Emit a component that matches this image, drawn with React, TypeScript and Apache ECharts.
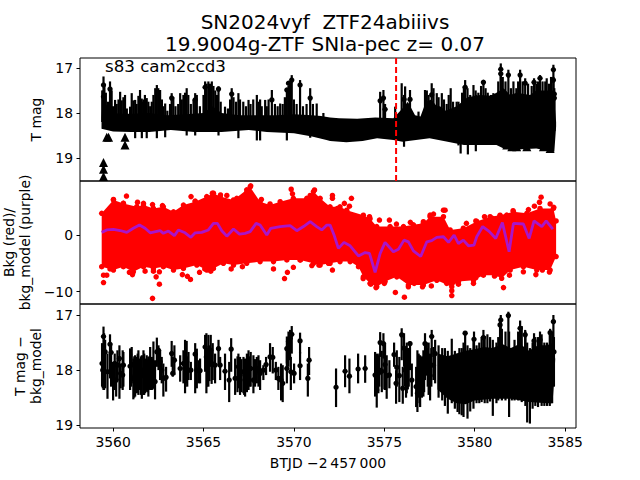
import React, { useEffect, useRef } from "react";
import * as echarts from "echarts";

const FONT = "DejaVu Sans";
const titleLines = ["SN2024vyf  ZTF24abiiivs", "19.9004g-ZTF SNIa-pec z= 0.07"];
const noteText = "s83 cam2ccd3";
const xTicks = [3560, 3565, 3570, 3575, 3580, 3585];
const magTicks = [17, 18, 19];
const bkgTicks = [-10, 0];
const peakTime = 3575.65;

// Panel 1: dense band of the T mag errorbars
const magBandTop = [[3559.36,18.1],[3559.45,17.6],[3559.6,17.8],[3559.9,18.0],[3560.5,18.02],[3561,18.02],[3562,18.0],[3563,18.05],[3564,18.03],[3565,18.0],[3565.5,17.85],[3566,18.0],[3567,18.05],[3568,18.05],[3569,18.05],[3570,18.03],[3571,18.05],[3571.5,18.07],[3572,18.1],[3572.5,18.12],[3573.5,18.13],[3574.5,18.1],[3575.5,18.12],[3576,17.9],[3576.3,17.75],[3576.7,18.05],[3577,18.08],[3577.3,17.75],[3577.6,17.7],[3577.9,17.85],[3578.08,17.85],[3578.4,17.95],[3579,17.85],[3579.3,17.75],[3579.6,17.65],[3580.3,17.6],[3580.9,17.62],[3581.2,17.55],[3581.6,17.45],[3581.96,17.6],[3582.32,17.55],[3583.06,17.6],[3583.4,17.5],[3583.8,17.5],[3584.35,17.5],[3584.5,18.2]];
const magBandBottom = [[3559.36,18.35],[3560,18.41],[3561,18.42],[3562,18.42],[3563.2,18.38],[3564.5,18.42],[3566,18.42],[3567.5,18.38],[3568.5,18.42],[3570,18.45],[3571,18.52],[3571.8,18.6],[3572,18.62],[3572.9,18.65],[3573.8,18.62],[3574.6,18.56],[3575.5,18.6],[3576,18.64],[3577.5,18.56],[3578.5,18.64],[3579.4,18.71],[3581.2,18.71],[3581.6,18.79],[3582.3,18.81],[3583.4,18.79],[3584.4,18.86],[3584.5,18.3]];
// t, bright end, faint end, dot
const magBars = [
[3559.47,17.19,18.2,17.38],[3559.47,17.5,18.3,17.64],[3559.83,17.3,18.1,17.47],[3560.11,17.71,18.2],[3560.39,17.53,18.2],[3560.66,17.6,18.2],[3560.94,17.86,18.2],[3561.03,17.56,18.2],[3561.22,17.71,18.56],[3561.49,17.49,18.2],[3561.59,17.75,18.56],[3561.68,17.7,18.2],[3561.86,17.67,18.56],[3562.14,17.75,18.2],[3562.42,17.38,18.56],[3562.6,17.49,18.2],[3562.88,17.79,18.54],[3563.24,17.56,18.2,17.67],[3563.71,17.56,18.2],[3563.89,17.6,18.2],[3564.07,17.45,18.5],[3564.54,17.56,18.5,17.71],[3565.09,17.3,18.2,17.43],[3565.27,17.3,18.2],[3565.46,17.3,18.2],[3565.83,17.41,18.5,17.47],[3566.19,17.86,18.2],[3566.56,17.45,18.2,17.58],[3566.93,17.56,18.56],[3567.49,17.71,18.2],[3567.95,17.6,18.61],[3568.13,17.7,18.61],[3568.41,17.71,18.2],[3568.78,17.49,18.2,17.71],[3569.24,17.79,18.2],[3569.61,17.45,18.61,17.49],[3569.7,17.4,18.2,17.34],[3569.88,17.16,18.2,17.27],[3570.34,17.27,18.2,17.38],[3570.9,17.45,18.55,17.67],[3571.26,17.79,18.3],[3571.63,18.0,18.3],
[3574.77,17.53,18.3,17.73],[3574.95,17.49,18.3,17.67],[3575.04,17.8,18.3,17.92],[3575.6,17.86,18.3],[3575.96,17.34,18.3],[3576.15,17.41,18.3],[3576.09,17.6,18.75,17.7],[3576.42,17.49,18.3,17.7],[3576.89,17.97,18.3],[3577.25,17.49,18.3],[3577.62,17.34,18.3,17.6],[3577.9,17.56,18.3],[3578.18,17.56,18.3],[3578.67,17.45,18.3],[3579.1,17.75,18.72],[3579.22,17.9,18.9],[3579.47,17.27,18.3,17.43],[3579.62,17.8,18.92],[3579.93,17.38,18.3],[3580.06,17.6,18.85],[3580.48,17.27,18.3,17.32],[3580.63,17.9,18.68],[3581.03,17.56,18.3],[3581.44,16.9,18.3,17.03],[3581.44,17.1,18.3,17.13],[3581.86,17.04,18.3,17.16],[3582.14,17.3,18.3],[3582.51,17.04,18.3,17.16],[3582.79,17.23,18.3,17.34],[3583.28,17.23,18.3,17.32],[3583.61,17.16,18.3,17.23],[3583.98,17.23,18.3],[3584.35,16.93,18.3,17.04],[3584.35,17.2,18.3,17.27],[3584.4,17.45,18.4,17.58],[3584.4,17.6,18.4,17.67],
];
// shorter bars that roughen the top of the band
const magFillBars = [
[3559.4,17.5,18.2],[3559.52,17.4,18.2],[3559.6,17.55,18.2],[3559.72,17.75,18.2],[3559.92,17.5,18.2],[3560.0,17.85,18.2],[3560.2,17.8,18.2],[3560.3,17.7,18.2],[3560.48,17.72,18.2],[3560.57,17.65,18.2],[3560.76,17.9,18.2],[3561.12,17.72,18.2],[3561.3,17.8,18.2],[3561.4,17.62,18.2],[3561.58,17.68,18.2],[3561.76,17.6,18.2],[3561.95,17.75,18.2],[3562.05,17.85,18.2],[3562.23,17.6,18.2],[3562.33,17.45,18.2],[3562.5,17.45,18.2],[3562.7,17.7,18.2],[3562.78,17.85,18.2],[3563.0,17.95,18.2],[3563.15,17.8,18.2],[3563.33,17.65,18.2],[3563.45,17.85,18.2],[3563.6,17.8,18.2],[3563.8,17.7,18.2],[3563.98,17.55,18.2],[3564.16,17.6,18.2],[3564.3,17.8,18.2],[3564.45,17.7,18.2],[3564.63,17.6,18.2],[3564.8,17.85,18.2],[3565.0,17.6,18.2],[3565.17,17.35,18.2],[3565.36,17.35,18.2],[3565.55,17.4,18.2],[3565.65,17.5,18.2],[3565.74,17.6,18.2],[3565.95,17.75,18.2],[3566.35,17.9,18.2],[3566.47,17.7,18.2],[3566.66,17.65,18.2],[3566.8,17.75,18.2],[3567.02,17.7,18.2],[3567.2,17.75,18.2],[3567.35,17.85,18.2],[3567.6,17.8,18.2],[3567.75,17.7,18.2],[3568.04,17.75,18.2],[3568.22,17.85,18.2],[3568.5,17.85,18.2],[3568.6,17.7,18.2],[3568.95,17.8,18.2],[3569.1,17.85,18.2],[3569.38,17.8,18.2],[3569.5,17.65,18.2],[3569.79,17.35,18.2],[3570.0,17.7,18.2],[3570.15,17.8,18.2],[3570.5,17.85,18.2],[3570.7,17.8,18.2],[3571.05,17.8,18.2],
[3577.35,17.5,18.2],[3577.45,17.6,18.2],[3577.72,17.45,18.2],[3578.0,17.65,18.2],[3578.3,17.7,18.2],[3578.45,17.8,18.2],[3578.56,17.6,18.2],[3578.8,17.75,18.2],[3579.0,17.75,18.2],[3579.3,17.55,18.2],[3579.4,17.4,18.2],[3579.6,17.45,18.2],[3579.75,17.6,18.2],[3580.05,17.5,18.2],[3580.2,17.55,18.2],[3580.35,17.4,18.2],[3580.6,17.45,18.2],[3580.72,17.55,18.2],[3580.9,17.6,18.2],[3581.15,17.6,18.2],[3581.3,17.3,18.2],[3581.55,17.2,18.2],[3581.7,17.3,18.2],[3582.0,17.45,18.2],[3582.3,17.45,18.2],[3582.4,17.3,18.2],[3582.65,17.3,18.2],[3582.95,17.35,18.2],[3583.15,17.4,18.2],[3583.4,17.35,18.2],[3583.5,17.3,18.2],[3583.75,17.3,18.2],[3583.9,17.3,18.2],[3584.1,17.35,18.2],[3584.22,17.2,18.2],
];
const magLimits = [[3559.47,19.1],[3559.47,19.25],[3559.47,19.41],[3559.65,18.54],[3559.75,18.54],[3560.66,18.54],[3560.66,18.71],[3581.77,18.71],[3582.05,18.75],[3582.32,18.75],[3582.88,18.75],[3583.8,18.75],[3584.17,18.79]];

// Panel 2: background envelope, outlying points, model line
const bkgTop = [[3559.37,3.84],[3560.02,6.2],[3560.57,5.6],[3561.31,5.02],[3561.68,5.3],[3562.23,4.7],[3562.78,5.0],[3563.34,4.1],[3563.89,5.3],[3564.54,5.9],[3565.18,6.8],[3565.55,7.4],[3565.92,6.8],[3566.66,6.2],[3567.39,8.0],[3567.58,8.5],[3568.13,5.9],[3568.68,5.3],[3569.24,5.9],[3569.97,6.5],[3570.71,6.5],[3571.08,7.7],[3571.45,6.5],[3572,5.0],[3572.55,5.0],[3572.92,4.4],[3573.84,3.5],[3574.21,2.9],[3574.58,1.5],[3575.32,1.5],[3576.06,1.5],[3576.61,1.8],[3577.16,2.1],[3577.53,3.25],[3578.27,3.25],[3578.64,0.9],[3579.37,1.2],[3580.11,2.4],[3580.85,3.25],[3581.4,3.5],[3582.14,4.1],[3582.88,3.84],[3583.61,4.7],[3584.35,4.7],[3584.5,2.5]];
const bkgBottom = [[3559.37,-5.6],[3560.02,-6.2],[3560.57,-5.6],[3561.12,-6.5],[3561.68,-5.6],[3562.23,-5.9],[3562.78,-5.6],[3563.34,-6.2],[3563.89,-5.9],[3564.63,-5.3],[3565.18,-6.2],[3565.55,-5.9],[3566.1,-5.0],[3566.66,-5.3],[3567.39,-5.0],[3568.13,-4.7],[3568.87,-4.7],[3569.61,-4.4],[3570.34,-4.4],[3571.08,-5.0],[3571.45,-5.3],[3572,-5.0],[3572.55,-4.7],[3573.11,-4.7],[3573.57,-5.6],[3573.84,-7.4],[3574.21,-8.55],[3574.58,-9.14],[3575.04,-8.2],[3575.69,-7.4],[3576.33,-8.85],[3577.16,-8.85],[3577.9,-8.0],[3578.73,-9.14],[3579.1,-8.2],[3579.93,-8.0],[3580.48,-7.1],[3581.13,-7.1],[3581.49,-7.65],[3581.96,-6.2],[3582.69,-5.6],[3583.43,-6.2],[3584.17,-6.2],[3584.5,-3.8]];
const bkgOutliers = [
[3560.02,6.3],[3560.57,5.6],[3560.74,6.9],[3561.35,5.8],[3561.68,5.6],[3562.18,5.4],[3562.73,5.2],[3564.31,6.8],[3564.54,6],[3565.49,7.4],[3565.94,7.1],[3566.29,7],[3566.84,6.5],[3567.61,8.7],[3567.39,7.5],[3568.2,6.3],[3568.68,5.5],[3569.85,8.1],[3569.92,7.3],[3571.14,7.97],[3570.9,7],[3572.13,6.5],
[3559.47,-8.4],[3559.47,-7.1],[3559.65,-7.1],[3559.83,-6],[3560.9,-6.6],[3561.07,-7],[3561.77,-6.4],[3562.18,-11.2],[3562.56,-8.7],[3562.56,-6.5],[3562.38,-7.4],[3562.23,-6.4],[3563.83,-7],[3564.11,-7.3],[3564.28,-7.85],[3564.78,-6.6],[3565.07,-6],[3565.4,-6.4],[3566.53,-6],[3567.15,-5.6],[3568.87,-6],[3569.48,-7.7],[3569.64,-6.6],[3569.97,-5.7],[3570.36,-4.4],[3570.99,-5.4],[3571.38,-5.3],[3571.91,-5],
[3572.13,7],[3572.79,5.6],[3573.07,5.1],[3573.18,6.5],[3572.41,4.7],[3574.18,3.25],[3574.73,2.65],[3575.28,2.65],[3575.67,1.95],[3576.44,2.25],[3577.16,2.36],[3577.53,3.54],[3577.72,3.7],[3578.27,4.4],[3578.36,4.4],[3577.66,2.65],[3579.54,2.07],[3580.06,2.5],[3580.54,3.25],[3580.98,2.95],[3581.4,3.4],[3581.77,3.54],[3582.12,4.3],[3582.97,4.5],[3583.3,5.1],[3583.58,5.8],[3583.67,6.7],[3584.17,5.5],[3584.37,4.9],
[3572.13,-6.2],[3573.83,-7.7],[3574.25,-8.7],[3574.54,-9.3],[3575,-8.55],[3575.61,-10.15],[3576.11,-11],[3576.33,-9.15],[3576.65,-8.55],[3577.11,-9.15],[3577.6,-9],[3578.03,-7.7],[3578.45,-8.55],[3578.73,-9.85],[3578.73,-10.7],[3579.1,-8.7],[3579.93,-8.55],[3580.06,-7.55],[3581.09,-7.25],[3581.59,-9.3],[3581.92,-7.1],[3582.69,-6.5],[3583.38,-7],[3583.74,-6.2],[3584.13,-6.55],
];
const bkgModel = [[3559.37,0.47],[3559.65,0.9],[3560.02,1.0],[3560.39,0.8],[3560.76,0.47],[3561.12,1.2],[3561.46,1.77],[3561.77,1.2],[3562.05,0.4],[3562.6,0.77],[3562.78,0.3],[3563.06,0.7],[3563.39,-0.1],[3563.61,0.9],[3563.98,0.4],[3564.3,-0.4],[3564.54,0.4],[3564.9,0.47],[3565.27,0.9],[3565.55,2.07],[3565.77,2.07],[3566.01,0.77],[3566.29,-0.2],[3566.66,1.06],[3566.99,0.17],[3567.3,0.3],[3567.58,0.6],[3567.91,2.07],[3568.13,1.77],[3568.5,0],[3568.72,1.2],[3569.24,1.5],[3569.79,1.65],[3570.16,0.77],[3570.53,1.5],[3570.9,2.36],[3571.26,1.5],[3571.54,0.9],[3571.82,1.77],[3572,1.77],[3572.22,0],[3572.46,-2.36],[3572.77,-1.3],[3573.11,-1.9],[3573.57,-3.7],[3573.94,-3.1],[3574.18,-3.24],[3574.49,-6.6],[3574.77,-3.24],[3575.04,-1.3],[3575.5,-2.95],[3575.78,-2.5],[3576.09,-0.9],[3576.33,-1.2],[3576.61,-2.8],[3577.01,-3.8],[3577.35,-1.2],[3577.62,-1],[3577.9,-0.4],[3578.27,-0.3],[3578.55,-1.3],[3578.86,0],[3579.1,-1.5],[3579.37,-0.9],[3579.65,-1.9],[3579.96,-1.77],[3580.11,-0.3],[3580.44,1.5],[3580.81,0.6],[3581.16,-0.6],[3581.53,2.2],[3581.9,-2.95],[3582.14,2.07],[3582.69,1.95],[3583.01,-0.6],[3583.28,2.5],[3583.71,1.5],[3583.95,2.5],[3584.32,1.06]];

// Panel 3: t, bright end, faint end, dot
const diffBars = [
[3559.47,17.21,18.36,17.39],[3559.5,17.33,18.36,17.67],[3559.39,17.51,18.3,17.88],[3559.43,17.64,18.33,18.0],[3559.56,17.45,18.33,17.67],[3559.69,17.7,18.52,18.03],[3559.83,17.35,18.15,17.53],[3559.89,17.51,18.3,17.68],[3560,17.85,18.55,18.18],[3560.09,17.7,18.36,17.88],[3560.17,17.88,18.48,18.18],[3560.24,17.64,18.18,17.91],[3560.35,17.55,18.52,17.79],[3560.42,17.88,18.33,18.06],[3560.53,17.64,18.36,18.09],[3560.57,17.67,18.3,17.91],
[3560.94,17.605,18.36,17.93],[3561.03,17.58,18.24,17.9],[3561.12,17.79,18.53,18.15],[3561.22,17.73,18.48,18.1],[3561.31,17.76,18.42,18.03],[3561.4,17.64,18.45,18.05],[3561.49,17.79,18.36,18.06],[3561.59,17.73,18.52,18.1],[3561.68,17.64,18.45,18.0],[3561.77,17.79,18.42,18.1],[3561.86,17.73,18.39,18.09],[3561.95,17.76,18.48,18.1],[3562.05,17.58,18.36,17.88],[3562.14,17.76,18.36,18.09],[3562.23,17.48,18.33,18.0],[3562.32,17.82,18.53,18.21],[3562.42,17.41,17.94,17.67],[3562.51,17.55,18.0,17.64],[3562.6,17.64,18.18,17.85],[3562.69,17.76,18.24,18.0],[3562.78,17.88,18.48,18.15],[3562.93,17.94,18.39,18.13],
[3563.24,17.47,17.94,17.7],[3563.3,17.76,18.12,18.06],[3563.39,17.55,18.09,17.82],[3563.71,17.73,18.21,17.97],[3563.89,17.64,18.24,17.88],[3563.98,17.45,18.42,17.97],[3564.07,17.47,18.24,17.85],[3564.17,17.67,18.18,18.0],[3564.3,17.85,18.18,18.0],[3564.54,17.51,18.42,17.71],[3564.63,17.61,18.33,18.0],[3564.72,17.82,18.24,18.01],[3564.81,17.79,18.24,18.01],
[3565.09,17.36,18.03,17.58],[3565.16,17.33,18.42,17.76],[3565.27,17.36,18.3,17.71],[3565.4,17.36,17.94,17.64],[3565.51,17.51,18.18,17.89],[3565.64,17.7,18.24,17.91],[3565.83,17.45,17.91,17.61],[3565.92,17.76,18.18,17.91],[3566.19,17.7,18.36,18.02],[3566.42,17.85,18.58,18.18],[3566.53,17.42,18.03,17.62],[3566.75,17.79,18.45,18.15],[3566.93,17.7,18.33,17.94],[3567.02,17.76,18.45,18.09],[3567.21,17.76,18.42,18.03],[3567.3,17.79,18.48,18.18],[3567.49,17.64,18.36,18.0],[3567.61,17.67,18.3,17.97],[3567.76,17.73,18.42,18.18],[3567.95,17.76,18.24,17.97],[3568.04,17.73,18.3,18.0],[3568.13,17.82,18.36,18.06],[3568.31,17.91,18.18,18.0],[3568.46,17.76,18.09,17.9],[3568.68,17.51,18.03,17.76],[3568.83,17.58,18.06,17.77],[3569,17.85,18.18,18.0],[3569.14,17.94,18.36,18.15],[3569.29,17.88,18.55,18.18],[3569.38,17.91,18.58,18.24],[3569.61,17.39,17.88,17.61],[3569.7,17.3,17.94,17.48],[3569.79,17.27,17.82,17.42],[3569.88,17.2,17.7,17.35],[3569.61,17.64,18.24,17.97],[3569.83,17.76,18.36,18.03],[3570.01,17.88,18.24,18.06],[3570.34,17.32,17.7,17.47],[3570.34,17.67,18.18,17.92],[3570.77,17.88,18.48,18.15],[3570.84,17.58,18.09,17.82],
[3572.33,17.97,18.67,18.31],[3572.83,17.73,18.31,18.02],[3573.07,17.79,18.42,18.11],[3573.55,17.7,18.24,17.98],[3573.94,17.73,18.23,17.97],
[3574.49,17.67,18.48,18.09],[3574.58,18.0,18.68,18.36],[3574.67,17.73,18.42,18.06],[3574.77,17.31,17.76,17.5],[3574.95,17.33,17.79,17.52],[3575.04,17.51,18.36,17.9],[3575.13,17.73,18.52,18.1],[3575.28,17.82,18.33,18.09],[3574.72,17.7,18.3,18.0],[3574.86,17.65,18.4,18.02],[3574.6,17.7,18.35,18.0],
[3575.54,17.5,17.94,17.72],[3575.65,18.0,18.61,18.24],[3575.69,17.64,18.3,17.95],[3575.83,17.76,18.58,18.1],[3575.96,17.24,17.82,17.36],[3576.09,17.33,17.94,17.6],[3576.02,17.94,18.61,18.33],[3576.24,17.5,18.42,17.9],[3576.42,17.48,18.0,17.52],[3576.3,17.6,18.35,17.9],[3576.15,17.6,18.3,18.0],[3576.52,17.88,18.48,18.18],[3576.76,17.94,18.67,18.3],[3576.83,17.64,18.76,18.42],[3576.98,17.73,18.67,18.2],[3576.9,17.7,18.5,18.1],[3577.16,17.64,18.48,18.06],[3577.25,17.33,18.18,17.52],[3577.35,17.5,18.1,17.8],[3577.53,17.7,18.55,18.1],[3577.62,17.27,17.76,17.39],[3577.72,17.58,18.18,17.91],[3577.81,17.45,18.24,17.7],[3577.45,17.5,18.45,18.0],
[3579.47,17.33,18.0,17.33],[3579.96,17.3,18.0,17.44],[3580.48,17.27,18.0,17.41],[3581.4,17.1,18.0,17.18],[3581.44,17.0,18.0,17.09],[3581.86,16.94,18.0,17.01],[3582.51,17.1,18.0,17.24],[3582.79,17.27,18.0,17.36],[3583.28,17.33,18.0,17.47],[3583.61,17.3,18.0,17.45],[3584.17,17.25,18.0,17.32],[3584.35,17.0,18.0,17.12],[3584.38,17.4,18.3,17.67],
];
const diffFillBars = [
[3578.0,17.55,18.5],[3578.2,17.6,18.55],[3578.35,17.6,18.65],[3578.51,17.65,18.79],[3578.73,17.43,18.6],[3578.9,17.65,18.7],[3579.05,17.7,18.76],[3579.15,17.6,18.8],[3579.28,17.6,18.82],[3579.38,17.5,18.85],[3579.6,17.55,18.88],[3579.75,17.6,18.75],[3579.93,17.45,18.7],[3580.1,17.55,18.6],[3580.25,17.5,18.6],[3580.38,17.4,18.58],[3580.55,17.38,18.6],[3580.7,17.35,18.6],[3580.85,17.4,18.57],[3581.0,17.45,18.83],[3581.2,17.5,18.6],[3581.3,17.4,18.55],[3581.5,17.25,18.55],[3581.7,17.3,18.55],[3581.9,17.3,18.85],[3582.05,17.65,18.55],[3582.2,17.45,18.55],[3582.4,17.3,18.55],[3582.6,17.2,18.58],[3582.8,17.3,18.65],[3582.9,17.5,18.95],[3583.05,17.6,18.97],[3583.2,17.5,18.7],[3583.35,17.4,18.65],[3583.5,17.4,18.67],[3583.7,17.35,18.65],[3583.85,17.5,18.65],[3584.0,17.5,18.65],[3584.15,17.35,18.65],[3584.28,17.3,18.6],
[3561.0,17.7,18.3],[3561.17,17.75,18.5],[3561.36,17.7,18.4],[3561.54,17.75,18.45],[3561.72,17.7,18.45],[3561.9,17.8,18.4],[3562.0,17.75,18.35],[3562.19,17.8,18.35],[3564.0,17.7,18.3],[3564.1,17.75,18.3],[3565.2,17.6,18.3],[3565.33,17.55,18.2],[3565.45,17.6,18.25],[3566.88,17.75,18.4],[3567.1,17.8,18.4],[3567.25,17.8,18.45],[3567.4,17.7,18.4],[3567.55,17.75,18.3],[3567.85,17.8,18.3],
[3575.0,17.7,18.35],[3576.2,17.7,18.5],[3576.35,17.6,18.3],[3576.95,17.85,18.6],[3577.08,17.75,18.5],[3577.2,17.7,18.4],[3577.4,17.6,18.3],[3577.6,17.6,18.3],
];
const diffBandTop = [[3577.94,17.7],[3578.5,17.75],[3579,17.7],[3579.5,17.65],[3580,17.62],[3580.5,17.58],[3581,17.6],[3581.5,17.52],[3582,17.6],[3582.5,17.52],[3583,17.65],[3583.5,17.55],[3584,17.55],[3584.35,17.5],[3584.45,17.8]];
const diffBandBottom = [[3577.94,18.35],[3578.5,18.52],[3579,18.6],[3579.5,18.62],[3580,18.55],[3581,18.52],[3582,18.52],[3583,18.58],[3584,18.6],[3584.3,18.6],[3584.4,18.15]];

const errorSeries = (rows: number[][], axis: number) => ({
  type: "custom",
  xAxisIndex: axis,
  yAxisIndex: axis,
  data: rows.map((r) => r.slice(0, 3)),
  z: 4,
  renderItem: (params: any, api: any) => {
    const row = rows[params.dataIndex];
    const a = api.coord([row[0], row[1]]);
    const b = api.coord([row[0], row[2]]);
    const children: any[] = [
      { type: "line", shape: { x1: a[0], y1: a[1], x2: b[0], y2: b[1] }, style: { stroke: "#000", lineWidth: 2.2 } },
    ];
    if (row.length > 3) {
      const c = api.coord([row[0], row[3]]);
      children.push({ type: "circle", shape: { cx: c[0], cy: c[1], r: 2.7 }, style: { fill: "#000" } });
    }
    return { type: "group", children };
  },
});

const bandSeries = (top: number[][], bottom: number[][], axis: number, color: string, z: number) => ({
  type: "custom",
  xAxisIndex: axis,
  yAxisIndex: axis,
  data: [top[0]],
  z,
  renderItem: (_p: any, api: any) => {
    const pts = [...top, ...[...bottom].reverse()].map((p) => api.coord(p));
    return { type: "polygon", shape: { points: pts }, style: { fill: color } };
  },
});

const scatter = (data: number[][], axis: number, color: string, size: number, z: number, symbol = "circle") => ({
  type: "scatter",
  xAxisIndex: axis,
  yAxisIndex: axis,
  data,
  symbol,
  symbolSize: size,
  itemStyle: { color, opacity: 1 },
  z,
  silent: true,
});

const textStyle = { color: "#000", fontFamily: FONT, fontSize: 13.9 };

const xAxis = (gridIndex: number, showTicks: boolean) => ({
  type: "value",
  gridIndex,
  min: 3558.17,
  max: 3585.6,
  name: showTicks ? "BTJD \u22122\u2009457\u2009000" : undefined,
  nameLocation: "middle",
  nameGap: 28,
  nameTextStyle: textStyle,
  splitLine: { show: false },
  axisLine: { show: false },
  axisTick: { show: showTicks, customValues: xTicks, length: 3.5, lineStyle: { color: "#000" } },
  axisLabel: { show: showTicks, customValues: xTicks, margin: 7, ...textStyle, formatter: (v: number) => String(v) },
});

const yAxis = (gridIndex: number, min: number, max: number, inverse: boolean, ticks: number[], name: string, nameGap: number) => ({
  type: "value",
  gridIndex,
  min,
  max,
  inverse,
  name,
  nameLocation: "middle",
  nameGap,
  nameRotate: 90,
  nameTextStyle: { ...textStyle, lineHeight: 16 },
  splitLine: { show: false },
  axisLine: { show: false },
  axisTick: { show: true, customValues: ticks, length: 3.5, lineStyle: { color: "#000" } },
  axisLabel: {
    show: true,
    customValues: ticks,
    margin: 7,
    ...textStyle,
    formatter: (v: number) => String(v).replace("-", "\u2212"),
  },
});

const gridBase = { left: 80, width: 496, outerBoundsMode: "none", show: true, backgroundColor: "transparent", borderColor: "#000", borderWidth: 1 };

export default function App() {
  const ref = useRef<HTMLDivElement>(null);
  useEffect(() => {
    const chart = echarts.init(ref.current!, undefined, { renderer: "svg" });
    chart.setOption({
      animation: false,
      backgroundColor: "#fff",
      title: [
        { text: titleLines[0], left: 320, top: 7, textAlign: "center", textStyle: { ...textStyle, fontSize: 20, fontWeight: "normal" } },
        { text: titleLines[1], left: 320, top: 29, textAlign: "center", textStyle: { ...textStyle, fontSize: 20, fontWeight: "normal" } },
        { text: noteText, left: 100, top: 53, textStyle: { ...textStyle, fontSize: 16.67, fontWeight: "normal" } },
      ],
      grid: [
        { ...gridBase, top: 58, height: 123 },
        { ...gridBase, top: 181, height: 123 },
        { ...gridBase, top: 304, height: 124 },
      ],
      xAxis: [xAxis(0, false), xAxis(1, false), xAxis(2, true)],
      yAxis: [
        yAxis(0, 16.78, 19.51, true, magTicks, "T mag", 31),
        yAxis(1, -12.2, 9.56, false, bkgTicks, "Bkg (red)/\nbkg_model (purple)", 41),
        yAxis(2, 16.8, 19.05, true, magTicks, "T mag \u2212\nbkg_model", 33),
      ],
      series: [
        bandSeries(magBandTop, magBandBottom, 0, "#000", 3),
        errorSeries(magBars, 0),
        errorSeries(magFillBars, 0),
        scatter(magLimits, 0, "#000", 9, 5, "triangle"),
        {
          type: "line",
          xAxisIndex: 0,
          yAxisIndex: 0,
          data: [[peakTime, 16.78], [peakTime, 19.51]],
          symbol: "none",
          lineStyle: { color: "#f00", width: 2, type: [6, 3] },
          z: 6,
        },
        bandSeries(bkgTop, bkgBottom, 1, "#f00", 3),
        scatter(bkgTop, 1, "#f00", 5.5, 3),
        scatter(bkgBottom, 1, "#f00", 5.5, 3),
        scatter(bkgOutliers, 1, "#f00", 5.5, 3),
        {
          type: "line",
          xAxisIndex: 1,
          yAxisIndex: 1,
          data: bkgModel,
          symbol: "none",
          lineStyle: { color: "#a915c9", width: 2.8 },
          z: 6,
        },
        bandSeries(diffBandTop, diffBandBottom, 2, "#000", 3),
        errorSeries(diffBars, 2),
        errorSeries(diffFillBars, 2),
      ],
    });
    return () => chart.dispose();
  }, []);
  return <div ref={ref} style={{ position: "fixed", left: 0, top: 0, width: 640, height: 480 }} />;
}
